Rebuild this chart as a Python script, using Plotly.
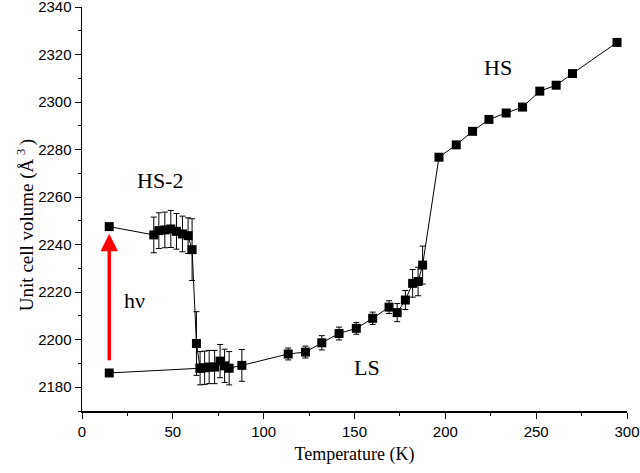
import plotly.graph_objects as go

# HS-2 branch (photo-induced, relaxing on heating)
hs2_T = [15, 39.5, 42.3, 45.6, 48.9, 52, 55.3, 58.4, 60.6, 63]
hs2_V = [2247.6, 2244.1, 2245.9, 2246.2, 2246.6, 2245.6, 2244.5, 2243.8, 2237.9, 2198.4]
hs2_err = [0, 7.5, 7.5, 7.5, 7.8, 7.5, 7.5, 7.5, 13, 13.4]

# LS -> HS branch
ls_T = [65, 67.5, 70, 73, 76, 78.5, 81, 88, 113.5, 123, 132, 141.5, 151, 160, 169,
        173.5, 178, 182, 185, 187.5, 196.5, 206, 215, 224, 233.5, 242.5, 252, 261, 270, 294.5]
ls_V = [2188, 2188.2, 2188.5, 2188.5, 2191, 2189, 2188, 2189.2, 2194, 2194.8, 2198.7,
        2202.6, 2204.8, 2209, 2213.7, 2211.4, 2216.7, 2223.7, 2224.5, 2231.4, 2276.8,
        2282, 2287.7, 2292.7, 2295.4, 2297.9, 2304.6, 2307.1, 2312, 2325.1]
ls_err = [7, 7, 7, 7, 7, 7, 7, 6.7, 2.5, 2.5, 3, 2.7, 2.5, 2.6, 2.7,
          3.8, 4, 5.8, 6, 8, 0, 0, 0, 0, 0, 0, 0, 0, 0, 0]

# initial LS point at lowest temperature
ls0_T = 15
ls0_V = 2186

# red arrow (h nu excitation)
arrow_T = 15
arrow_from = 2190.7
arrow_to = 2244.6

labels = [("HS-2", 42.8, 2267), ("h\u03bd", 29, 2216.4), ("LS", 157, 2188.5), ("HS", 229, 2314.5)]

fig = go.Figure()

fig.add_trace(go.Scatter(
    x=[ls0_T, ls_T[0]], y=[ls0_V, ls_V[0]], mode="lines+markers",
    line=dict(color="black", width=1),
    marker=dict(symbol="square", size=9, color="black"),
    showlegend=False, hoverinfo="skip"))

fig.add_trace(go.Scatter(
    x=hs2_T + ls_T, y=hs2_V + ls_V, mode="lines+markers",
    line=dict(color="black", width=1),
    marker=dict(symbol="square", size=9, color="black"),
    error_y=dict(type="data", array=hs2_err + ls_err, visible=True,
                 color="black", thickness=1, width=3),
    showlegend=False, hoverinfo="skip"))

annotations = [dict(x=arrow_T, y=arrow_to, ax=arrow_T, ay=arrow_from,
                    xref="x", yref="y", axref="x", ayref="y", text="",
                    showarrow=True, arrowhead=2, arrowsize=1, arrowwidth=3.5,
                    arrowcolor="#ff0000", standoff=0, startstandoff=0)]
for t, x, y in labels:
    annotations.append(dict(x=x, y=y, xref="x", yref="y", text=t, showarrow=False,
                            font=dict(family="Liberation Serif", size=22, color="black")))

# y-axis title, placed as a rotated annotation
annotations.append(dict(text="Unit cell volume (\u00c5<sup> 3 </sup>)", textangle=-90,
                        xref="paper", yref="paper", x=-0.1046, y=0.46,
                        xanchor="center", yanchor="middle", showarrow=False,
                        font=dict(family="Liberation Serif", size=19, color="black")))

fig.update_layout(
    width=640, height=473,
    margin=dict(l=82, r=13, t=7, b=62),
    paper_bgcolor="white", plot_bgcolor="white",
    annotations=annotations,
    xaxis=dict(range=[0, 300], tick0=0, dtick=50, ticks="outside", ticklen=6,
               tickwidth=1, tickcolor="black", showline=True, linecolor="black",
               linewidth=1.5, showgrid=False, zeroline=False, automargin=False,
               ticklabeloverflow="allow",
               minor=dict(dtick=25, tick0=0, ticks="outside", ticklen=3, tickcolor="black"),
               tickfont=dict(family="Liberation Sans", size=15, color="black"),
               title=dict(text="Temperature (K)", standoff=9,
                          font=dict(family="Liberation Serif", size=18, color="black"))),
    yaxis=dict(range=[2170, 2340.01], tick0=2180, dtick=20, ticks="outside", ticklen=6,
               tickwidth=1, tickcolor="black", showline=True, linecolor="black",
               linewidth=1.5, showgrid=False, zeroline=False, automargin=False,
               ticklabeloverflow="allow",
               minor=dict(dtick=10, tick0=2170, ticks="outside", ticklen=3, tickcolor="black"),
               tickfont=dict(family="Liberation Sans", size=15, color="black")),
)

fig.write_html("out.html", config={"displayModeBar": False, "staticPlot": True},
               post_script="document.body.style.margin='0';document.body.style.overflow='hidden';")
